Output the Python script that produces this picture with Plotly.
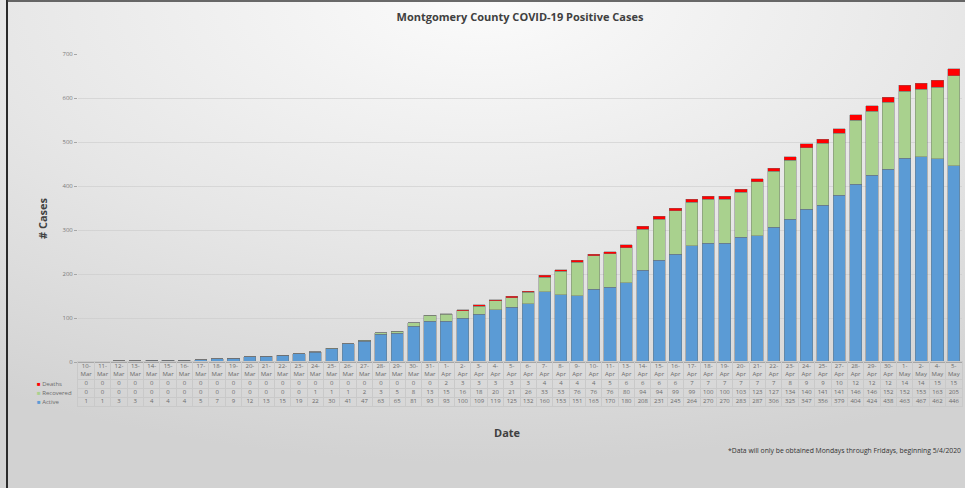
import base64
import plotly.graph_objects as go

dates = ["10-Mar", "11-Mar", "12-Mar", "13-Mar", "14-Mar", "15-Mar", "16-Mar", "17-Mar",
         "18-Mar", "19-Mar", "20-Mar", "21-Mar", "22-Mar", "23-Mar", "24-Mar", "25-Mar",
         "26-Mar", "27-Mar", "28-Mar", "29-Mar", "30-Mar", "31-Mar",
         "1-Apr", "2-Apr", "3-Apr", "4-Apr", "5-Apr", "6-Apr", "7-Apr", "8-Apr", "9-Apr",
         "10-Apr", "11-Apr", "13-Apr", "14-Apr", "15-Apr", "16-Apr", "17-Apr", "18-Apr",
         "19-Apr", "20-Apr", "21-Apr", "22-Apr", "23-Apr", "24-Apr", "25-Apr", "27-Apr",
         "28-Apr", "29-Apr", "30-Apr", "1-May", "2-May", "4-May", "5-May"]

active = [1, 1, 3, 3, 4, 4, 4, 5, 7, 9, 12, 13, 15, 19, 22, 30, 41, 47, 63, 65, 81, 93,
          93, 100, 109, 119, 125, 132, 160, 153, 151, 165, 170, 180, 208, 231, 245, 264,
          270, 270, 283, 287, 306, 325, 347, 356, 379, 404, 424, 438, 463, 467, 462, 446]

recovered = [0, 0, 0, 0, 0, 0, 0, 0, 0, 0, 0, 0, 0, 0, 1, 1, 1, 2, 3, 5, 8, 13,
             15, 16, 18, 20, 21, 26, 33, 53, 76, 76, 76, 80, 94, 94, 99, 99,
             100, 100, 103, 123, 127, 134, 140, 141, 141, 146, 146, 152, 152, 153, 163, 205]

deaths = [0, 0, 0, 0, 0, 0, 0, 0, 0, 0, 0, 0, 0, 0, 0, 0, 0, 0, 0, 0, 0, 0,
          2, 3, 3, 3, 3, 3, 4, 4, 4, 4, 5, 6, 6, 6, 6, 7,
          7, 7, 7, 7, 7, 8, 9, 9, 10, 12, 12, 12, 14, 14, 15, 15]

series_names = ["Deaths", "Recovered", "Active"]
series_colors = {"Active": "#5b9bd5", "Recovered": "#a9d18e", "Deaths": "#ff0000"}

W, H = 965, 488
ML, MR, MT, MB = 78, 3, 54, 82
PW, PH = W - ML - MR, H - MT - MB
TABLE_PX = 44
table_frac = TABLE_PX / PH

# table row layout (in table-axis units = pixels)
row_center = {"date": 35.5, "Deaths": 22.5, "Recovered": 13.5, "Active": 4.5}
row_bounds = [0, 9, 18, 27, 44]

fig = go.Figure()
edge = dict(color="rgba(110,110,110,0.7)", width=0.6)
for name, vals in [("Active", active), ("Recovered", recovered), ("Deaths", deaths)]:
    fig.add_trace(go.Bar(x=dates, y=vals, name=name,
                         marker=dict(color=series_colors[name], line=edge),
                         xaxis="x", yaxis="y"))

txtfont = dict(family="Open Sans, sans-serif", size=6, color="#6b6b6b")
fig.add_trace(go.Scatter(x=dates, y=[row_center["date"]] * len(dates),
                         text=[d.replace("-", "-<br>") for d in dates],
                         mode="text", textfont=txtfont, xaxis="x2", yaxis="y2",
                         hoverinfo="skip"))
for name, vals in [("Deaths", deaths), ("Recovered", recovered), ("Active", active)]:
    fig.add_trace(go.Scatter(x=dates, y=[row_center[name]] * len(dates),
                             text=[str(v) for v in vals], mode="text",
                             textfont=txtfont, xaxis="x2", yaxis="y2",
                             hoverinfo="skip"))

annotations = []
for name in series_names:
    annotations.append(dict(
        xref="paper", yref="y2", x=(35 - ML) / PW, y=row_center[name],
        xanchor="left", yanchor="middle", showarrow=False,
        text=f'<span style="color:{series_colors[name]}">■</span> {name}',
        font=dict(family="Open Sans, sans-serif", size=6, color="#6b6b6b")))

annotations.append(dict(xref="paper", yref="paper", x=(42 - ML) / PW,
                        y=(H - MB - 218) / PH, text="<b># Cases</b>", textangle=-90,
                        showarrow=False, xanchor="center", yanchor="middle",
                        font=dict(family="Open Sans, sans-serif", size=11, color="#404040")))
annotations.append(dict(xref="paper", yref="paper", x=(507 - ML) / PW,
                        y=(H - MB - 432) / PH, text="<b>Date</b>",
                        showarrow=False, xanchor="center", yanchor="middle",
                        font=dict(family="Open Sans, sans-serif", size=11, color="#404040")))
annotations.append(dict(xref="paper", yref="paper", x=(W - 2 - ML) / PW,
                        y=(H - MB - 450) / PH,
                        text="*Data will only be obtained Mondays through Fridays, beginning 5/4/2020",
                        showarrow=False, xanchor="right", yanchor="middle",
                        font=dict(family="Open Sans, sans-serif", size=6.8, color="#333333")))

svg = (f'<svg xmlns="http://www.w3.org/2000/svg" width="{W}" height="{H}" '
       f'preserveAspectRatio="none" viewBox="0 0 {W} {H}">'
       '<defs><radialGradient id="g" cx="50%" cy="0%" r="95%">'
       '<stop offset="0" stop-color="#fbfbfb"/><stop offset="0.55" stop-color="#e6e6e6"/>'
       '<stop offset="1" stop-color="#d2d2d2"/></radialGradient></defs>'
       f'<rect x="0" y="0" width="{W}" height="{H}" fill="url(#g)"/></svg>')
src = "data:image/svg+xml;base64," + base64.b64encode(svg.encode()).decode()

shapes = [
    dict(type="line", xref="paper", yref="paper", x0=(7 - ML) / PW, x1=(7 - ML) / PW,
         y0=-MB / PH, y1=1 + MT / PH, line=dict(color="#2a2a2a", width=2)),
    dict(type="line", xref="paper", yref="paper", x0=(7 - ML) / PW, x1=(W - ML) / PW,
         y0=1 + (MT - 1) / PH, y1=1 + (MT - 1) / PH, line=dict(color="#3a3a3a", width=1.5)),
]

gridc = "#c9c9c9"
fig.update_layout(
    width=W, height=H,
    margin=dict(l=ML, r=MR, t=MT, b=MB),
    barmode="stack", bargap=0.26,
    showlegend=False,
    paper_bgcolor="#dedede", plot_bgcolor="rgba(0,0,0,0)",
    title=dict(text="<b>Montgomery County COVID-19 Positive Cases</b>",
               x=0.5, xref="paper", xanchor="center", y=1 - 17 / H, yanchor="middle",
               font=dict(family="Open Sans, sans-serif", size=11, color="#404040")),
    xaxis=dict(type="category", range=[-0.5, len(dates) - 0.5], showticklabels=False,
               showgrid=False, showline=True, linecolor="#a6a6a6", ticks="",
               anchor="y", domain=[0, 1]),
    yaxis=dict(range=[0, 700], dtick=100, domain=[table_frac, 1], showgrid=True,
               gridcolor="rgba(200,200,200,0.55)", gridwidth=1, zeroline=False,
               ticks="outside", ticklen=3, tickcolor="#a6a6a6",
               tickfont=dict(family="Open Sans, sans-serif", size=6, color="#7a7a7a")),
    xaxis2=dict(type="category", range=[-0.5, len(dates) - 0.5], anchor="y2",
                matches="x", tickson="boundaries", showgrid=True, gridcolor=gridc,
                showticklabels=False, ticks="", showline=True, mirror=True, linecolor=gridc),
    yaxis2=dict(range=[0, TABLE_PX], domain=[0, table_frac], anchor="x2",
                tickvals=row_bounds, showgrid=True, gridcolor=gridc, zeroline=False,
                showticklabels=False, ticks="", showline=True, mirror=True, linecolor=gridc),
    annotations=annotations,
    shapes=shapes,
    images=[dict(source=src, xref="paper", yref="paper", x=-ML / PW, y=1 + MT / PH,
                 sizex=W / PW, sizey=H / PH, xanchor="left", yanchor="top",
                 sizing="stretch", layer="below")],
)

fig.write_html("out.html", config={"displayModeBar": False},
               post_script="document.body.style.margin='0';document.body.style.overflow='hidden';")
